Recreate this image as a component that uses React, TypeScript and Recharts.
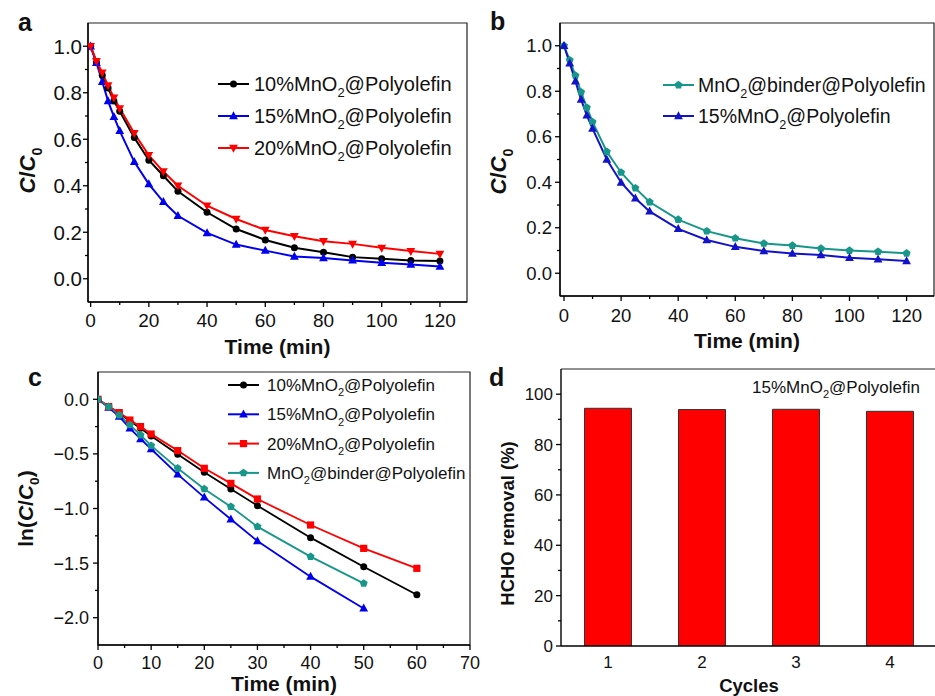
import React from "react";
import {
	LineChart,
	Line,
	BarChart,
	Bar,
	XAxis,
	YAxis,
	ReferenceArea,
	ReferenceLine,
	Legend,
} from "recharts";

const FONT = '"Liberation Sans", Arial, sans-serif';

// panels a and b: C/C0 against time
const timeAB = [0, 2, 4, 6, 8, 10, 15, 20, 25, 30, 40, 50, 60, 70, 80, 90, 100, 110, 120];
const a10 = [1.0, 0.93, 0.875, 0.82, 0.765, 0.72, 0.607, 0.51, 0.443, 0.376, 0.286, 0.214, 0.167, 0.133, 0.114, 0.093, 0.086, 0.079, 0.076];
const a15 = [1.0, 0.929, 0.847, 0.764, 0.697, 0.636, 0.503, 0.407, 0.331, 0.271, 0.197, 0.147, 0.121, 0.096, 0.089, 0.079, 0.069, 0.061, 0.053];
const a20 = [1.0, 0.936, 0.886, 0.831, 0.779, 0.733, 0.626, 0.531, 0.461, 0.4, 0.314, 0.257, 0.21, 0.183, 0.161, 0.15, 0.133, 0.119, 0.107];
const bBinder = [1.0, 0.937, 0.869, 0.796, 0.728, 0.665, 0.534, 0.443, 0.374, 0.313, 0.236, 0.185, 0.154, 0.131, 0.122, 0.109, 0.1, 0.095, 0.088];
const b15 = [1.0, 0.923, 0.844, 0.763, 0.694, 0.636, 0.5, 0.399, 0.33, 0.272, 0.195, 0.146, 0.116, 0.098, 0.087, 0.08, 0.068, 0.061, 0.054];

// panel c: ln(C/C0)
const timeC = [0, 2, 4, 6, 8, 10, 15, 20, 25, 30, 40, 50, 60];
const ln10 = [0, -0.067, -0.128, -0.2, -0.266, -0.336, -0.504, -0.669, -0.821, -0.974, -1.267, -1.533, -1.79];
const ln15 = [0, -0.076, -0.159, -0.266, -0.363, -0.455, -0.687, -0.898, -1.099, -1.298, -1.624, -1.915];
const ln20 = [0, -0.066, -0.122, -0.19, -0.25, -0.318, -0.47, -0.632, -0.77, -0.913, -1.151, -1.365, -1.548];
const lnBinder = [0, -0.067, -0.144, -0.235, -0.327, -0.424, -0.632, -0.821, -0.983, -1.166, -1.441, -1.686];

// panel d: cycling
const cycles = ["1", "2", "3", "4"];
const removal = [94.4, 93.9, 94.0, 93.2];

// ticks
const abXMajor = [0, 20, 40, 60, 80, 100, 120];
const abXMinor = [10, 30, 50, 70, 90, 110];
const abYMajor = [0, 0.2, 0.4, 0.6, 0.8, 1.0];
const abYMinor = [0.1, 0.3, 0.5, 0.7, 0.9];
const cXMajor = [0, 10, 20, 30, 40, 50, 60, 70];
const cXMinor = [5, 15, 25, 35, 45, 55, 65];
const cYMajor = [-2, -1.5, -1, -0.5, 0];
const cYMinor = [-1.75, -1.25, -0.75, -0.25];
const dYMajor = [0, 20, 40, 60, 80, 100];
const dYMinor = [10, 30, 50, 70, 90];

const BLACK = "#000000";
const BLUE = "#0000ee";
const BLUE_B = "#1212c8";
const RED = "#ff0000";
const TEAL = "#17968a";

const S10 = "10%MnO2@Polyolefin";
const S15 = "15%MnO2@Polyolefin";
const S20 = "20%MnO2@Polyolefin";
const SB = "MnO2@binder@Polyolefin";

const rowsAB = timeAB.map((t, i) => ({
	t,
	c10: a10[i],
	c15: a15[i],
	c20: a20[i],
	binder: bBinder[i],
	b15: b15[i],
}));
const rowsC = timeC.map((t, i) => ({
	t,
	c10: ln10[i],
	c15: ln15[i],
	c20: ln20[i],
	binder: lnBinder[i],
}));
const rowsD = cycles.map((c, i) => ({ cycle: c, removal: removal[i] }));

const allTicks = (a: number[], b: number[]) => [...a, ...b].sort((x, y) => x - y);
const isMajor = (majors: number[], v: number) => majors.some((m) => Math.abs(m - v) < 1e-9);
const fmt1 = (v: number) => v.toFixed(1).replace("-", "\u2212");
const fmt0 = (v: number) => String(v);

const TM = 10; // tickMargin, used to find the axis line from the tick position

const xTick = (majors: number[], fmt: (v: number) => string, fontSize: number, gap: number) => (p: any) => {
	const v = p.payload.value;
	const major = isMajor(majors, v);
	const y0 = p.y - TM;
	return (
		<g>
			<line x1={p.x} x2={p.x} y1={y0} y2={y0 + (major ? 5 : 3)} stroke="#000" strokeWidth={1.3} />
			{major && (
				<text x={p.x} y={y0 + gap} dy="0.36em" textAnchor="middle" fontSize={fontSize} fontFamily={FONT} fill="#111">
					{fmt(v)}
				</text>
			)}
		</g>
	);
};

const yTick = (majors: number[], fmt: (v: number) => string, fontSize: number, gap: number) => (p: any) => {
	const v = p.payload.value;
	const major = isMajor(majors, v);
	const x0 = p.x + TM;
	return (
		<g>
			<line x1={x0} x2={x0 - (major ? 5 : 3)} y1={p.y} y2={p.y} stroke="#000" strokeWidth={1.3} />
			{major && (
				<text x={x0 - gap} y={p.y} dy="0.36em" textAnchor="end" fontSize={fontSize} fontFamily={FONT} fill="#111">
					{fmt(v)}
				</text>
			)}
		</g>
	);
};

type Shape = "circle" | "up" | "down" | "square" | "pentagon";

const marker = (shape: Shape, cx: number, cy: number, color: string) => {
	const r = 4;
	if (shape === "circle") return <circle cx={cx} cy={cy} r={3.5} fill={color} />;
	if (shape === "square") return <rect x={cx - 3.6} y={cy - 3.6} width={7.2} height={7.2} fill={color} />;
	if (shape === "up")
		return <polygon points={`${cx},${cy - r * 1.2} ${cx - r * 1.1},${cy + r * 0.8} ${cx + r * 1.1},${cy + r * 0.8}`} fill={color} />;
	if (shape === "down")
		return <polygon points={`${cx},${cy + r * 1.2} ${cx - r * 1.1},${cy - r * 0.8} ${cx + r * 1.1},${cy - r * 0.8}`} fill={color} />;
	const pts = [0, 1, 2, 3, 4]
		.map((k) => {
			const a = ((-90 + 72 * k) * Math.PI) / 180;
			return `${cx + 4.2 * Math.cos(a)},${cy + 4.2 * Math.sin(a)}`;
		})
		.join(" ");
	return <polygon points={pts} fill={color} />;
};

const dot = (shape: Shape, color: string) => (p: any) => {
	if (p.cy == null || p.cx == null) return <g key={`e${p.index}`} />;
	return <g key={`d${p.index}`}>{marker(shape, p.cx, p.cy, color)}</g>;
};

// "MnO2" gets its subscript
const richName = (name: string, fs: number) => {
	const parts = name.split("MnO2");
	if (parts.length < 2) return name;
	const s = fs * 0.3;
	return (
		<>
			{parts[0]}MnO
			<tspan dy={s} fontSize={fs * 0.65}>
				2
			</tspan>
			<tspan dy={-s}>{parts[1]}</tspan>
		</>
	);
};

// legend rows keep the order given here, with the marker of each series
type Item = { name: string; shape: Shape };

const legendBox =
	(items: Item[], rowY0: number, rowGap: number, textX: number, fontSize: number) =>
	(props: any) => {
		const payload: any[] = props.payload || [];
		return (
			<svg width={330} height={rowY0 + rowGap * items.length} style={{ overflow: "visible", display: "block" }}>
				{items.map((it, i) => {
					const e = payload.find((p) => p.value === it.name);
					if (!e) return null;
					const y = rowY0 + i * rowGap;
					return (
						<g key={it.name}>
							<line x1={8} x2={39} y1={y} y2={y} stroke={e.color} strokeWidth={2} />
							{marker(it.shape, 23.5, y, e.color)}
							<text x={textX} y={y} dy="0.36em" fontSize={fontSize} fontFamily={FONT} fill="#111">
								{richName(e.value, fontSize)}
							</text>
						</g>
					);
				})}
			</svg>
		);
	};

const xTitle = (text: string, dy: number, fontSize: number) => (p: any) => {
	const vb = p.viewBox;
	return (
		<text x={vb.x + vb.width / 2} y={vb.y + dy} dy="0.36em" textAnchor="middle" fontSize={fontSize} fontWeight="bold" fontFamily={FONT} fill="#111">
			{text}
		</text>
	);
};

const yTitle = (content: (fs: number) => React.ReactNode, dx: number, dyc: number, fontSize: number) => (p: any) => {
	const vb = p.viewBox;
	const cx = vb.x + vb.width - dx;
	const cy = vb.y + vb.height / 2 + dyc;
	return (
		<text x={cx} y={cy} dy="0.36em" textAnchor="middle" transform={`rotate(-90, ${cx}, ${cy})`} fontSize={fontSize} fontWeight="bold" fontFamily={FONT} fill="#111">
			{content(fontSize)}
		</text>
	);
};

const cOverC0 = (fs: number) => (
	<>
		<tspan fontStyle="italic">C</tspan>/<tspan fontStyle="italic">C</tspan>
		<tspan dy={fs * 0.3} fontSize={fs * 0.65}>
			0
		</tspan>
	</>
);
const lnCOverC0 = (fs: number) => (
	<>
		ln(<tspan fontStyle="italic">C</tspan>/<tspan fontStyle="italic">C</tspan>
		<tspan dy={fs * 0.3} fontSize={fs * 0.65}>
			0
		</tspan>
		<tspan dy={-fs * 0.3}>)</tspan>
	</>
);

const axisLine = { stroke: "#000", strokeWidth: 1.4 };
const frame = { fill: "none", fillOpacity: 0, stroke: "#222", strokeWidth: 1.2, ifOverflow: "visible" as const };

const PanelA = () => {
	const xd: [number, number] = [-0.9, 129.3];
	const yd: [number, number] = [-0.1, 1.1];
	const items: Item[] = [
		{ name: S10, shape: "circle" },
		{ name: S15, shape: "up" },
		{ name: S20, shape: "down" },
	];
	return (
		<LineChart width={470} height={360} data={rowsAB} margin={{ top: 23, right: 3, left: 40, bottom: 18 }}>
			<ReferenceArea x1={xd[0]} x2={xd[1]} y1={yd[0]} y2={yd[1]} {...frame} />
			<XAxis type="number" dataKey="t" domain={xd} allowDataOverflow ticks={allTicks(abXMajor, abXMinor)} interval={0} height={40} tickSize={0} tickMargin={TM} tickLine={false} axisLine={axisLine} tick={xTick(abXMajor, fmt0, 19, 18)} label={xTitle("Time (min)", 44, 21)} />
			<YAxis type="number" domain={yd} allowDataOverflow ticks={allTicks(abYMajor, abYMinor)} interval={0} width={48} tickSize={0} tickMargin={TM} tickLine={false} axisLine={axisLine} tick={yTick(abYMajor, fmt1, 20.5, 6)} label={yTitle(cOverC0, 61, 8, 22)} />
			<Legend layout="vertical" align="center" verticalAlign="middle" wrapperStyle={{ left: 210, top: 60, width: 260, height: 110 }} content={legendBox(items, 24, 32, 44, 20)} />
			<Line name={S10} dataKey="c10" stroke={BLACK} strokeWidth={2} dot={dot("circle", BLACK)} activeDot={false} isAnimationActive={false} />
			<Line name={S15} dataKey="c15" stroke={BLUE} strokeWidth={2} dot={dot("up", BLUE)} activeDot={false} isAnimationActive={false} />
			<Line name={S20} dataKey="c20" stroke={RED} strokeWidth={2} dot={dot("down", RED)} activeDot={false} isAnimationActive={false} />
		</LineChart>
	);
};

const PanelB = () => {
	const xd: [number, number] = [-1.4, 129.6];
	const yd: [number, number] = [-0.1, 1.1];
	const items: Item[] = [
		{ name: SB, shape: "pentagon" },
		{ name: S15, shape: "up" },
	];
	return (
		<LineChart width={465} height={360} data={rowsAB} margin={{ top: 23, right: 1, left: 40, bottom: 24 }}>
			<ReferenceArea x1={xd[0]} x2={xd[1]} y1={yd[0]} y2={yd[1]} {...frame} />
			<XAxis type="number" dataKey="t" domain={xd} allowDataOverflow ticks={allTicks(abXMajor, abXMinor)} interval={0} height={40} tickSize={0} tickMargin={TM} tickLine={false} axisLine={axisLine} tick={xTick(abXMajor, fmt0, 18.5, 19)} label={xTitle("Time (min)", 44, 21)} />
			<YAxis type="number" domain={yd} allowDataOverflow ticks={allTicks(abYMajor, abYMinor)} interval={0} width={50} tickSize={0} tickMargin={TM} tickLine={false} axisLine={axisLine} tick={yTick(abYMajor, fmt1, 18.5, 8)} label={yTitle(cOverC0, 62, 12, 22)} />
			<Legend layout="vertical" align="center" verticalAlign="middle" wrapperStyle={{ left: 185, top: 60, width: 280, height: 80 }} content={legendBox(items, 25, 31, 43, 19.5)} />
			<Line name={SB} dataKey="binder" stroke={TEAL} strokeWidth={2} dot={dot("pentagon", TEAL)} activeDot={false} isAnimationActive={false} />
			<Line name={S15} dataKey="b15" stroke={BLUE_B} strokeWidth={2} dot={dot("up", BLUE_B)} activeDot={false} isAnimationActive={false} />
		</LineChart>
	);
};

const PanelC = () => {
	const xd: [number, number] = [0, 70];
	const yd: [number, number] = [-2.25, 0.25];
	const items: Item[] = [
		{ name: S10, shape: "circle" },
		{ name: S15, shape: "up" },
		{ name: S20, shape: "square" },
		{ name: SB, shape: "pentagon" },
	];
	return (
		<LineChart width={480} height={336} data={rowsC} margin={{ top: 12, right: 10, left: 40, bottom: 11 }}>
			<ReferenceArea x1={xd[0]} x2={xd[1]} y1={yd[0]} y2={yd[1]} {...frame} />
			<XAxis type="number" dataKey="t" domain={xd} allowDataOverflow ticks={allTicks(cXMajor, cXMinor)} interval={0} height={40} tickSize={0} tickMargin={TM} tickLine={false} axisLine={axisLine} tick={xTick(cXMajor, fmt0, 18, 18)} label={xTitle("Time (min)", 38, 21)} />
			<YAxis type="number" domain={yd} allowDataOverflow ticks={allTicks(cYMajor, cYMinor)} interval={0} width={58} tickSize={0} tickMargin={TM} tickLine={false} axisLine={axisLine} tick={yTick(cYMajor, fmt1, 18, 9)} label={yTitle(lnCOverC0, 73, 0, 21)} />
			<Legend layout="vertical" align="center" verticalAlign="middle" wrapperStyle={{ left: 220, top: 10, width: 260, height: 120 }} content={legendBox(items, 15, 29.3, 47, 17)} />
			<Line name={S10} dataKey="c10" stroke={BLACK} strokeWidth={1.8} dot={dot("circle", BLACK)} activeDot={false} isAnimationActive={false} />
			<Line name={S15} dataKey="c15" stroke={BLUE} strokeWidth={1.8} dot={dot("up", BLUE)} activeDot={false} isAnimationActive={false} />
			<Line name={S20} dataKey="c20" stroke={RED} strokeWidth={1.8} dot={dot("square", RED)} activeDot={false} isAnimationActive={false} />
			<Line name={SB} dataKey="binder" stroke={TEAL} strokeWidth={1.8} dot={dot("pentagon", TEAL)} activeDot={false} isAnimationActive={false} />
		</LineChart>
	);
};

const PanelD = () => (
	<BarChart width={467} height={336} data={rowsD} margin={{ top: 9, right: 0, left: 41, bottom: 10 }} barCategoryGap="25%">
		<ReferenceLine y={110} stroke="#222" strokeWidth={1.2} ifOverflow="visible" />
		<XAxis dataKey="cycle" height={40} tickSize={0} tickMargin={TM} tickLine={false} axisLine={axisLine} interval={0}
			tick={(p: any) => (
				<text x={p.x} y={p.y - TM + 16} dy="0.36em" textAnchor="middle" fontSize={17} fontFamily={FONT} fill="#111">
					{p.payload.value}
				</text>
			)}
			label={xTitle("Cycles", 39, 18.5)} />
		<YAxis type="number" domain={[0, 110]} allowDataOverflow ticks={allTicks(dYMajor, dYMinor)} interval={0} width={50} tickSize={0} tickMargin={TM} tickLine={false} axisLine={axisLine} tick={yTick(dYMajor, fmt0, 17, 8)} label={yTitle(() => "HCHO removal (%)", 54, 16, 18.5)} />
		<Legend layout="vertical" align="center" verticalAlign="middle" wrapperStyle={{ left: 275, top: 10, width: 190, height: 30 }}
			content={(props: any) => (
				<svg width={190} height={30} style={{ overflow: "visible", display: "block" }}>
					{(props.payload || []).map((e: any) => (
						<text key={e.value} x={7} y={17} dy="0.36em" fontSize={17} fontFamily={FONT} fill="#111">
							{richName(e.value, 17)}
						</text>
					))}
				</svg>
			)} />
		<Bar name={S15} dataKey="removal" fill={RED} stroke="#333" strokeWidth={1} isAnimationActive={false} />
	</BarChart>
);

const letters = [
	{ t: "a", x: 18, y: 31 },
	{ t: "b", x: 490, y: 30 },
	{ t: "c", x: 28, y: 386 },
	{ t: "d", x: 489, y: 386 },
];

export default function App() {
	return (
		<div style={{ position: "absolute", left: 0, top: 0, width: 935, height: 696, overflow: "hidden", background: "#fff", fontFamily: FONT }}>
			<div style={{ position: "absolute", left: 0, top: 0 }}>
				<PanelA />
			</div>
			<div style={{ position: "absolute", left: 470, top: 0 }}>
				<PanelB />
			</div>
			<div style={{ position: "absolute", left: 0, top: 360 }}>
				<PanelC />
			</div>
			<div style={{ position: "absolute", left: 470, top: 360 }}>
				<PanelD />
			</div>
			<svg width={935} height={696} style={{ position: "absolute", left: 0, top: 0, pointerEvents: "none" }}>
				{letters.map((l) => (
					<text key={l.t} x={l.x} y={l.y} fontSize={25} fontWeight="bold" fontFamily={FONT} fill="#111">
						{l.t}
					</text>
				))}
			</svg>
		</div>
	);
}
